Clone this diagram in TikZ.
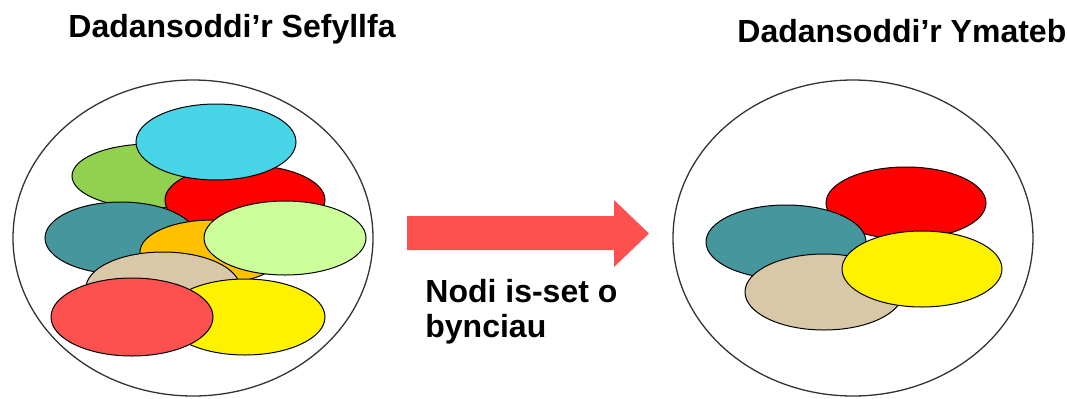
\documentclass[tikz,border=0pt]{standalone}
\usepackage{fontspec}
\setmainfont{Liberation Sans}
\definecolor{blobcyan}{HTML}{46D4E6}
\definecolor{blobgreen}{HTML}{92D050}
\definecolor{blobteal}{HTML}{46969E}
\definecolor{bloborange}{HTML}{FFC000}
\definecolor{bloblime}{HTML}{CCFF99}
\definecolor{blobtan}{HTML}{D8C8A8}
\definecolor{blobpink}{HTML}{FF5050}
\tikzset{
    blob/.style={draw=black, line width=0.5pt},
    ring/.style={draw=black!80, line width=0.65pt},
    label/.style={inner sep=0pt, font=\bfseries\fontsize{16}{17.5}\selectfont}
}
\begin{document}
\begin{tikzpicture}[x=0.5pt, y=-0.5pt]
                \useasboundingbox (0,0) rectangle (1067,398);
                \node[label, anchor=base west] (titleA) at (68,37) {Dadansoddi’r Sefyllfa};
                \node[label, anchor=base west] (titleB) at (737,42) {Dadansoddi’r Ymateb};
                \draw[ring] (193,238) ellipse [x radius=180, y radius=158];
                \draw[blob, fill=blobgreen] (150,176) ellipse [x radius=78, y radius=32];
                \draw[blob, fill=red] (245,200) ellipse [x radius=80, y radius=35];
                \draw[blob, fill=blobcyan] (216,142) ellipse [x radius=80, y radius=38];
                \draw[blob, fill=blobteal] (121,238) ellipse [x radius=76, y radius=36];
                \draw[blob, fill=bloborange] (212,252) ellipse [x radius=72, y radius=32];
                \draw[blob, fill=bloblime] (285,238) ellipse [x radius=81, y radius=37];
                \draw[blob, fill=blobtan] (163,288) ellipse [x radius=77, y radius=36];
                \draw[blob, fill=yellow] (245,317) ellipse [x radius=80, y radius=38];
                \draw[blob, fill=blobpink] (132,317) ellipse [x radius=81, y radius=39];
                \fill[blobpink] (407,216) -- (614,216) -- (614,200) -- (649,233.5)
                    -- (614,267) -- (614,250) -- (407,250) -- cycle;
                \node[label, anchor=north west, align=left] (step) at (425,279) {Nodi is-set o\\bynciau};
                \draw[ring] (853,238) ellipse [x radius=180, y radius=158];
                \draw[blob, fill=red] (906,203) ellipse [x radius=80, y radius=36];
                \draw[blob, fill=blobteal] (786,242) ellipse [x radius=80, y radius=37];
                \draw[blob, fill=blobtan] (824,292) ellipse [x radius=79, y radius=38];
                \draw[blob, fill=yellow] (922,269) ellipse [x radius=80, y radius=38];
        \end{tikzpicture}
\end{document}
